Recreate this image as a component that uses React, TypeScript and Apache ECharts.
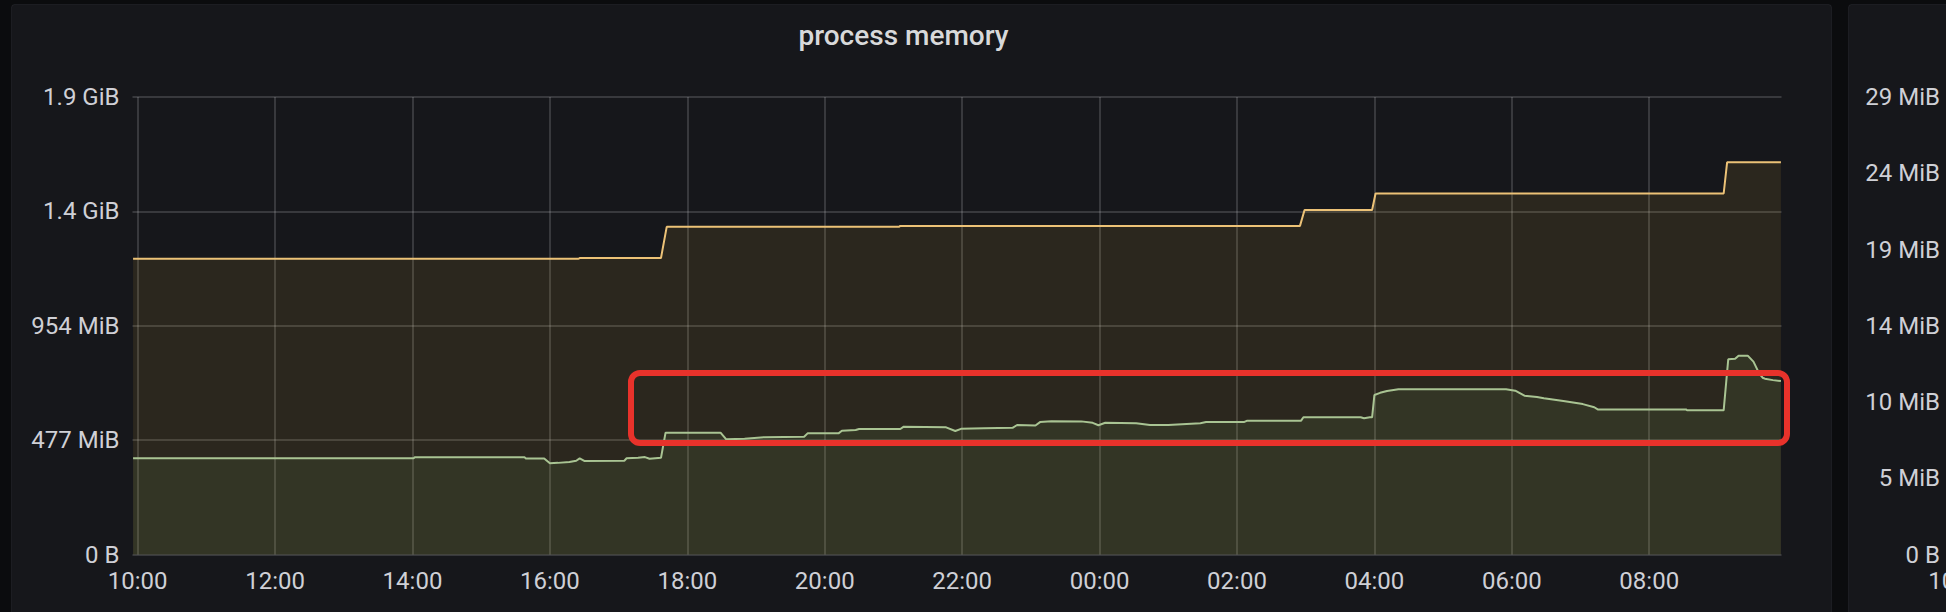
import React, { useEffect, useRef } from "react";
import * as echarts from "echarts";

// ---------- data ----------
const TITLE = "process memory";

// Grafana "last 24 hours" window
const timeRange = ["09:55:30", "09:55:30"];

const xTickLabels = [
  "10:00", "12:00", "14:00", "16:00", "18:00", "20:00",
  "22:00", "00:00", "02:00", "04:00", "06:00", "08:00",
];

// left panel y ticks (bytes)
const yTicksLeft = [0, 5e8, 1e9, 1.5e9, 2e9];
// right (partly visible) panel y ticks (bytes)
const yTicksRight = [0, 5e6, 1e7, 1.5e7, 2e7, 2.5e7, 3e7];

// upper series (MiB)
const yellowSeries: [string, number][] = [
  ["09:56", 1233], ["16:25", 1233], ["16:26", 1236], ["17:37", 1236],
  ["17:42", 1366], ["21:05", 1366], ["21:06", 1370], ["02:55", 1370],
  ["02:59", 1436], ["03:58", 1436], ["04:01", 1505], ["09:05", 1505],
  ["09:08", 1635], ["09:55", 1635],
];

// lower series (MiB)
const greenSeries: [string, number][] = [
  ["09:56", 401], ["14:01", 401], ["14:02", 405], ["15:38", 405],
  ["15:39", 400], ["15:55", 400], ["16:00", 380], ["16:07", 382],
  ["16:17", 386], ["16:23", 391], ["16:26", 401], ["16:30", 390],
  ["17:05", 391], ["17:07", 401], ["17:17", 403], ["17:23", 406],
  ["17:27", 399], ["17:37", 403], ["17:41", 508], ["18:29", 508],
  ["18:34", 480], ["18:50", 483], ["19:07", 489], ["19:42", 491],
  ["19:45", 505], ["20:12", 505], ["20:15", 516], ["20:27", 519],
  ["20:30", 523], ["21:06", 523], ["21:09", 533], ["21:46", 530],
  ["21:54", 515], ["21:59", 524], ["22:19", 526], ["22:44", 528],
  ["22:48", 540], ["23:04", 538], ["23:08", 552], ["23:18", 556],
  ["23:44", 555], ["23:54", 549], ["23:59", 539], ["00:05", 549],
  ["00:32", 547], ["00:44", 540], ["01:00", 540], ["01:28", 547],
  ["01:33", 552], ["02:06", 552], ["02:09", 558], ["02:56", 558],
  ["02:58", 572], ["03:48", 572], ["03:51", 568], ["03:56", 572],
  ["03:58", 572], ["04:00", 665], ["04:05", 674], ["04:11", 682],
  ["04:21", 689], ["05:55", 689], ["06:03", 683], ["06:11", 662],
  ["06:22", 657], ["06:28", 651], ["06:45", 640], ["07:02", 627],
  ["07:12", 614], ["07:15", 605], ["07:35", 605], ["08:32", 605],
  ["08:33", 601], ["09:05", 601], ["09:09", 814], ["09:15", 816],
  ["09:18", 829], ["09:26", 829], ["09:31", 804], ["09:36", 755],
  ["09:39", 737], ["09:41", 733], ["09:48", 727], ["09:55", 723],
];

// ---------- helpers ----------
const MiB = 1024 * 1024;
const GiB = 1024 * 1024 * 1024;

function clockMinutes(t: string): number {
  const p = t.split(":").map(Number);
  return p[0] * 60 + p[1] + (p[2] || 0) / 60;
}

// minutes relative to 10:00 of the first day; the day rolls over when the clock goes back
function toRelative(times: string[]): number[] {
  let day = 0;
  let prev = -1;
  return times.map((t) => {
    const m = clockMinutes(t);
    if (prev >= 0 && m <= prev) day += 1;
    prev = m;
    return day * 1440 + m - 600;
  });
}

function fmtBytes(v: number): string {
  if (v === 0) return "0 B";
  if (v >= GiB) return (v / GiB).toFixed(1) + " GiB";
  return Math.round(v / MiB) + " MiB";
}

function toData(series: [string, number][]): [number, number][] {
  const xs = toRelative(series.map((d) => d[0]));
  return series.map((d, i) => [xs[i], d[1] * MiB]);
}

const [xMin, xMax] = toRelative(timeRange);
const xTickValues = toRelative(xTickLabels);

const GRID_COLOR = "rgba(220,220,230,0.23)";
const LABEL = { color: "#cfd0d6", fontSize: 24, fontFamily: "Roboto" };

function xAxisFor(gridIndex: number, ticks: number[]) {
  return {
    type: "value",
    gridIndex,
    min: xMin,
    max: xMax,
    axisLine: { show: false },
    axisTick: { show: false, customValues: ticks },
    axisLabel: {
      ...LABEL,
      margin: 14,
      customValues: ticks,
      formatter: (v: number) => {
        const i = xTickValues.findIndex((t) => Math.abs(t - v) < 1e-6);
        return i >= 0 ? xTickLabels[i] : "";
      },
    },
    splitLine: { show: true, lineStyle: { color: GRID_COLOR, width: 1.5 } },
  };
}

function yAxisFor(gridIndex: number, ticks: number[]) {
  return {
    type: "value",
    gridIndex,
    min: ticks[0],
    max: ticks[ticks.length - 1],
    interval: ticks[1] - ticks[0],
    axisLine: { show: false },
    axisTick: { show: false },
    axisLabel: { ...LABEL, margin: 13, formatter: fmtBytes },
    splitLine: { show: true, lineStyle: { color: GRID_COLOR, width: 1.5 } },
  };
}

export default function App() {
  const ref = useRef<HTMLDivElement>(null);
  useEffect(() => {
    if (!ref.current) return;
    const chart = echarts.init(ref.current, null, { renderer: "svg" });
    const option: any = {
      animation: false,
      backgroundColor: "#0b0c0e",
      grid: [
        { left: 132.5, top: 97, width: 1649, height: 457.5, containLabel: false, outerBoundsMode: "none" },
        { left: 1953, top: 97, width: 1649, height: 457.5, containLabel: false, outerBoundsMode: "none" },
      ],
      // the right panel only shows its first time label at the page edge
      xAxis: [xAxisFor(0, xTickValues), xAxisFor(1, xTickValues.slice(0, 1))],
      yAxis: [yAxisFor(0, yTicksLeft), yAxisFor(1, yTicksRight)],
      series: [
        {
          name: "yellow",
          type: "line",
          xAxisIndex: 0,
          yAxisIndex: 0,
          showSymbol: false,
          symbol: "none",
          data: toData(yellowSeries),
          lineStyle: { color: "#ecc277", width: 2 },
          itemStyle: { color: "#ecc277" },
          areaStyle: { color: "#eab839", opacity: 0.1 },
          z: 2,
        },
        {
          name: "green",
          type: "line",
          xAxisIndex: 0,
          yAxisIndex: 0,
          showSymbol: false,
          symbol: "none",
          data: toData(greenSeries),
          lineStyle: { color: "#a9c493", width: 2 },
          itemStyle: { color: "#a9c493" },
          areaStyle: { color: "#7eb26d", opacity: 0.1 },
          z: 3,
        },
        {
          name: "right",
          type: "line",
          xAxisIndex: 1,
          yAxisIndex: 1,
          data: [],
        },
      ],
      graphic: {
        elements: [
          {
            type: "rect",
            z: -10,
            shape: { x: 11.5, y: 4.5, width: 1820, height: 700, r: 3 },
            style: { fill: "#16171b", stroke: "rgba(204,204,220,0.07)", lineWidth: 1 },
            silent: true,
          },
          {
            type: "rect",
            z: -10,
            shape: { x: 1848.5, y: 4.5, width: 300, height: 700, r: 3 },
            style: { fill: "#16171b", stroke: "rgba(204,204,220,0.07)", lineWidth: 1 },
            silent: true,
          },
          {
            type: "text",
            z: 10,
            x: 903.5,
            y: 35,
            style: {
              text: TITLE,
              fill: "#d8d9da",
              fontSize: 28,
              fontWeight: 500,
              fontFamily: "Roboto",
              align: "center",
              verticalAlign: "middle",
            },
            silent: true,
          },
          {
            type: "rect",
            z: 100,
            shape: { x: 631, y: 373, width: 1156, height: 70, r: 9 },
            style: { fill: "rgba(0,0,0,0)", stroke: "#e8322b", lineWidth: 6 },
            silent: true,
          },
        ],
      },
    };
    chart.setOption(option);
    return () => chart.dispose();
  }, []);
  return (
    <div
      ref={ref}
      style={{ position: "fixed", left: 0, top: 0, width: 1946, height: 612 }}
    />
  );
}
